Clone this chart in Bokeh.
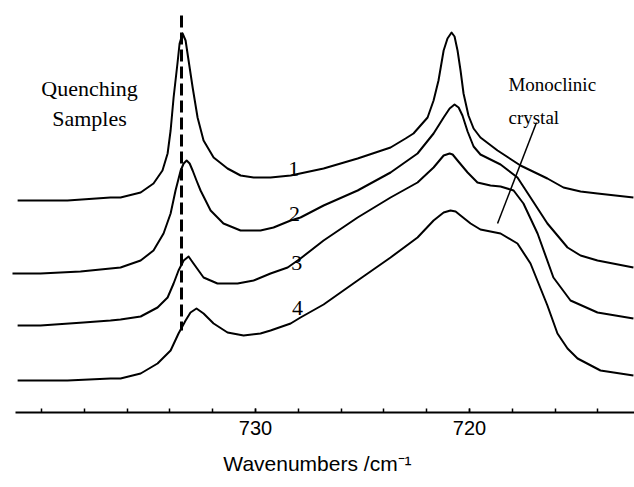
from bokeh.plotting import figure
from bokeh.models import Range1d, FixedTicker
from bokeh.core.properties import value
from bokeh.embed import file_html
from bokeh.resources import INLINE

# ---- data (wavenumber / cm^-1, offset absorbance) ----
wn1 = [741.12, 738.79, 736.78, 736.31, 735.37, 734.77, 734.35, 734.11, 733.97, 733.83, 733.65,
       733.55, 733.41, 733.27, 733.13, 732.94, 732.71, 732.43, 731.96, 731.31, 730.70, 730.09,
       729.30, 728.36, 726.82, 725.23, 723.69, 722.99, 722.62, 722.29, 721.96, 721.68, 721.45,
       721.21, 721.03, 720.84, 720.70, 720.56, 720.42, 720.28, 720.05, 719.81, 719.49, 718.69,
       717.62, 716.36, 715.61, 714.81, 714.02, 712.34]
abs1 = [2.12, 2.12, 2.15, 2.15, 2.20, 2.29, 2.42, 2.59, 2.82, 3.15, 3.49,
        3.69, 3.79, 3.72, 3.52, 3.25, 2.95, 2.72, 2.55, 2.44, 2.37, 2.35,
        2.35, 2.37, 2.44, 2.54, 2.65, 2.74, 2.79, 2.87, 2.95, 3.12, 3.32,
        3.62, 3.74, 3.80, 3.76, 3.62, 3.42, 3.19, 2.97, 2.84, 2.75, 2.62,
        2.47, 2.34, 2.25, 2.21, 2.19, 2.15]

wn2 = [741.36, 740.05, 738.18, 736.78, 736.31, 735.37, 734.77, 734.30, 733.97, 733.74, 733.50,
       733.36, 733.22, 733.08, 732.94, 732.76, 732.57, 732.10, 731.50, 730.70, 729.77, 729.16,
       728.36, 727.90, 726.82, 725.23, 723.69, 722.43, 721.68, 721.21, 720.93, 720.70, 720.51,
       720.33, 720.09, 719.81, 719.49, 718.55, 717.76, 717.15, 716.36, 715.42, 714.81, 714.02,
       712.34]
abs2 = [1.39, 1.39, 1.41, 1.44, 1.45, 1.52, 1.62, 1.79, 1.99, 2.22, 2.42,
        2.49, 2.52, 2.49, 2.42, 2.32, 2.22, 2.02, 1.89, 1.82, 1.82, 1.85,
        1.92, 1.95, 2.07, 2.22, 2.40, 2.59, 2.79, 2.95, 3.04, 3.08, 3.05,
        2.97, 2.81, 2.66, 2.58, 2.48, 2.35, 2.15, 1.89, 1.65, 1.57, 1.52,
        1.45]

wn3 = [741.12, 740.05, 738.04, 736.78, 736.31, 735.37, 734.58, 734.11, 733.83, 733.60, 733.36,
       733.13, 732.90, 732.43, 731.78, 730.84, 730.09, 729.30, 728.50, 727.90, 726.82, 725.23,
       723.69, 722.43, 721.68, 721.21, 720.93, 720.79, 720.56, 720.09, 719.63, 719.02, 718.55,
       717.94, 717.48, 716.82, 716.08, 715.28, 714.02, 712.34]
abs3 = [0.87, 0.87, 0.90, 0.92, 0.93, 0.96, 1.05, 1.15, 1.29, 1.42, 1.52,
        1.56, 1.49, 1.35, 1.29, 1.29, 1.32, 1.39, 1.45, 1.54, 1.72, 1.95,
        2.15, 2.30, 2.45, 2.57, 2.59, 2.58, 2.52, 2.40, 2.30, 2.27, 2.26,
        2.22, 2.09, 1.79, 1.35, 1.12, 1.00, 0.94]

wn4 = [741.12, 738.79, 736.78, 736.31, 735.37, 734.58, 733.97, 733.60, 733.27, 733.04, 732.76,
       732.43, 731.96, 731.31, 730.56, 729.77, 729.30, 728.36, 727.90, 726.82, 725.23, 723.69,
       722.43, 721.68, 721.21, 720.89, 720.65, 720.42, 719.95, 719.49, 718.55, 717.76, 717.15,
       716.36, 715.89, 715.42, 714.95, 713.88, 712.34]
abs4 = [0.32, 0.32, 0.34, 0.34, 0.39, 0.49, 0.62, 0.79, 0.92, 1.00, 1.04,
        0.99, 0.89, 0.80, 0.77, 0.79, 0.82, 0.89, 0.95, 1.08, 1.32, 1.55,
        1.75, 1.92, 2.00, 2.02, 2.01, 1.97, 1.89, 1.83, 1.79, 1.69, 1.49,
        1.07, 0.79, 0.64, 0.54, 0.42, 0.37]

marker_wn = [733.46, 733.46]          # dashed reference line
marker_abs = [3.97, 0.82]
leader_wn = [716.87, 718.69]          # pointer to monoclinic shoulder
leader_abs = [2.90, 1.89]

curve_labels = ["1", "2", "3", "4"]
curve_label_wn = [728.22, 728.18, 728.08, 728.04]
curve_label_abs = [2.44, 1.99, 1.50, 1.05]

left_note = ["Quenching", "Samples"]
left_note_wn = [737.76, 737.76]
left_note_abs = [3.24, 2.94]

right_note = ["Monoclinic", "crystal"]
right_note_wn = [718.18, 718.18]
right_note_abs = [3.28, 2.95]

tick_values = [730, 720]
minor_tick_values = list(range(714, 742, 2))
axis_extent = (712.29, 741.2)
x_title = "Wavenumbers /cm\u207b\u00b9"

# ---- figure ----
p = figure(frame_width=634, frame_height=412,
           x_range=Range1d(741.92, 712.29), y_range=Range1d(0, 4.12),
           y_axis_location=None, output_backend="svg", toolbar_location=None,
           min_border_left=0, min_border_right=0, min_border_top=0, min_border_bottom=0)
p.outline_line_color = None
p.xgrid.visible = False
p.ygrid.visible = False
p.background_fill_color = "white"

for wn, a in [(wn1, abs1), (wn2, abs2), (wn3, abs3), (wn4, abs4)]:
    p.line(wn, a, line_color="black", line_width=2, line_join="round")

p.line(marker_wn, marker_abs, line_color="black", line_width=3, line_dash="12 5")
p.line(leader_wn, leader_abs, line_color="black", line_width=1.5)

p.text(curve_label_wn, curve_label_abs, text=curve_labels, text_font=value("Liberation Serif"),
       text_font_size="22px", text_align="center", text_baseline="alphabetic", text_color="black")
p.text(left_note_wn, left_note_abs, text=left_note, text_font=value("Liberation Serif"),
       text_font_size="22px", text_align="center", text_baseline="alphabetic", text_color="black")
p.text(right_note_wn, right_note_abs, text=right_note, text_font=value("Liberation Serif"),
       text_font_size="19px", text_align="left", text_baseline="alphabetic", text_color="black")

ax = p.xaxis[0]
ax.bounds = axis_extent
ax.ticker = FixedTicker(ticks=tick_values, minor_ticks=minor_tick_values)
ax.major_tick_in = 4
ax.major_tick_out = 0
ax.minor_tick_in = 4
ax.minor_tick_out = 0
ax.axis_line_width = 2
ax.axis_line_color = "black"
ax.major_tick_line_color = "black"
ax.minor_tick_line_color = "black"
ax.major_tick_line_width = 1.5
ax.minor_tick_line_width = 1.5
ax.major_label_text_font = "Liberation Sans"
ax.major_label_text_font_size = "20px"
ax.major_label_text_color = "black"
ax.major_label_standoff = 8
ax.axis_label = x_title
ax.axis_label_text_font = "Liberation Sans"
ax.axis_label_text_font_size = "21px"
ax.axis_label_text_font_style = "normal"
ax.axis_label_text_color = "black"
ax.axis_label_standoff = 14

open("out.html", "w").write(file_html(p, INLINE))
